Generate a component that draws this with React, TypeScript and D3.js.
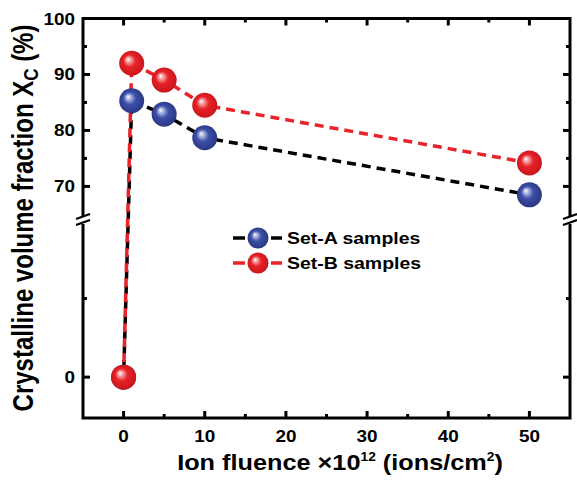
import React from "react";
import * as d3 from "d3";

const fluence = [0, 1, 5, 10, 50];
const setA = [0, 85.3, 82.9, 78.7, 68.5];
const setB = [0, 92.0, 89.0, 84.5, 74.2];
const seriesNames = ["Set-A samples", "Set-B samples"];
const xTicks = [0, 10, 20, 30, 40, 50];
const xMinor = [-5, 5, 15, 25, 35, 45, 55];
const yUpperTicks = [70, 80, 90, 100];
const yUpperMinor = [75, 85, 95];
const yLowerTicks = [0];
const yLowerMinor = [5];

const W = 577, H = 484;
const L = 83, R = 570, T = 18.5, B = 418, BRK = 220;
const SX = 1.18;

const x = d3.scaleLinear().domain([-5, 55]).range([L, R]);
const yU = d3.scaleLinear().domain([64, 100]).range([BRK, T]);
const yLo = d3.scaleLinear().domain([-2.6, 10]).range([B, BRK]);
const yPos = (v: number) => (v >= 30 ? yU(v) : yLo(v));

const font = "'Liberation Sans', Arial, sans-serif";

export default function App() {
  const line = d3
    .line<[number, number]>()
    .x((d) => x(d[0]))
    .y((d) => yPos(d[1]));
  const dataA = fluence.map((f, i) => [f, setA[i]] as [number, number]);
  const dataB = fluence.map((f, i) => [f, setB[i]] as [number, number]);
  const sw = 3;
  const majTick = 7, minTick = 4;
  const yMaj = [...yUpperTicks.map(yU), ...yLowerTicks.map(yLo)];
  const yMin = [...yUpperMinor.map(yU), ...yLowerMinor.map(yLo)];
  const breakMark = (cx: number) => (
    <g>
      <rect x={cx - 6} y={BRK - 4} width={12} height={8} fill="white" />
      <line x1={cx - 7} y1={BRK - 1} x2={cx + 7} y2={BRK - 6} stroke="black" strokeWidth={2.2} />
      <line x1={cx - 7} y1={BRK + 5} x2={cx + 7} y2={BRK} stroke="black" strokeWidth={2.2} />
    </g>
  );
  const ball = (cx: number, cy: number, r: number, id: string, key?: any) => (
    <circle key={key} cx={cx} cy={cy} r={r} fill={`url(#${id})`} />
  );
  return (
    <svg
      width={W}
      height={H}
      style={{ position: "absolute", left: 0, top: 0, background: "white" }}
      fontFamily={font}
    >
      <defs>
        <radialGradient id="gBlue" cx="50%" cy="50%" r="55%" fx="35%" fy="33%">
          <stop offset="0%" stopColor="#ffffff" />
          <stop offset="18%" stopColor="#a9b3e0" />
          <stop offset="45%" stopColor="#3d50a8" />
          <stop offset="100%" stopColor="#26347e" />
        </radialGradient>
        <radialGradient id="gRed" cx="50%" cy="50%" r="55%" fx="35%" fy="33%">
          <stop offset="0%" stopColor="#ffffff" />
          <stop offset="18%" stopColor="#f4a0a2" />
          <stop offset="45%" stopColor="#e82228" />
          <stop offset="100%" stopColor="#c4141b" />
        </radialGradient>
      </defs>

      {/* frame */}
      <rect x={L} y={T} width={R - L} height={B - T} fill="none" stroke="black" strokeWidth={sw} />

      {/* x ticks bottom & top */}
      {xTicks.map((t) => (
        <g key={"xt" + t}>
          <line x1={x(t)} x2={x(t)} y1={B} y2={B - majTick} stroke="black" strokeWidth={sw} />
          <line x1={x(t)} x2={x(t)} y1={T} y2={T + majTick} stroke="black" strokeWidth={sw} />
          <text
            transform={`translate(${x(t)},${B + 24}) scale(${SX},1)`}
            textAnchor="middle"
            fontSize={16}
            fontWeight="bold"
          >
            {t}
          </text>
        </g>
      ))}
      {xMinor
        .filter((t) => x(t) > L + 2 && x(t) < R - 2)
        .map((t) => (
          <g key={"xm" + t}>
            <line x1={x(t)} x2={x(t)} y1={B} y2={B - minTick} stroke="black" strokeWidth={sw} />
            <line x1={x(t)} x2={x(t)} y1={T} y2={T + minTick} stroke="black" strokeWidth={sw} />
          </g>
        ))}

      {/* y ticks */}
      {yMaj.map((py, i) => (
        <g key={"ym" + i}>
          <line x1={L} x2={L + majTick} y1={py} y2={py} stroke="black" strokeWidth={sw} />
          <line x1={R} x2={R - majTick} y1={py} y2={py} stroke="black" strokeWidth={sw} />
        </g>
      ))}
      {yMin.map((py, i) => (
        <g key={"yn" + i}>
          <line x1={L} x2={L + minTick} y1={py} y2={py} stroke="black" strokeWidth={sw} />
          <line x1={R} x2={R - minTick} y1={py} y2={py} stroke="black" strokeWidth={sw} />
        </g>
      ))}
      {[...yUpperTicks.map((t) => [t, yU(t)]), ...yLowerTicks.map((t) => [t, yLo(t)])].map(([t, py]) => (
        <text
          key={"yl" + t}
          transform={`translate(${L - 8},${py + 6}) scale(${SX},1)`}
          textAnchor="end"
          fontSize={16}
          fontWeight="bold"
        >
          {t}
        </text>
      ))}

      {breakMark(L)}
      {breakMark(R)}

      {/* lines */}
      <path d={line(dataA) || ""} fill="none" stroke="black" strokeWidth={3.5} strokeDasharray="9,6" strokeDashoffset={7} />
      <path d={line(dataB) || ""} fill="none" stroke="#e8232a" strokeWidth={3.5} strokeDasharray="9,6" />

      {/* points */}
      {dataA.map((d, i) => ball(x(d[0]), yPos(d[1]), 12.5, "gBlue", "a" + i))}
      {dataB.map((d, i) => ball(x(d[0]), yPos(d[1]), 12.5, "gRed", "b" + i))}

      {/* legend */}
      {seriesNames.map((s, i) => {
        const ly = 238 + i * 25;
        const col = i === 0 ? "black" : "#e8232a";
        return (
          <g key={s}>
            <line x1={233} x2={245} y1={ly} y2={ly} stroke={col} strokeWidth={3.5} />
            <line x1={271} x2={282} y1={ly} y2={ly} stroke={col} strokeWidth={3.5} />
            {ball(258, ly, 10.5, i === 0 ? "gBlue" : "gRed")}
            <text
              transform={`translate(287,${ly + 6}) scale(${SX},1)`}
              fontSize={16.5}
              fontWeight="bold"
            >
              {s}
            </text>
          </g>
        );
      })}

      {/* axis labels */}
      <text
        transform={`translate(340,470) scale(1.15,1)`}
        textAnchor="middle"
        fontSize={22}
        fontWeight="bold"
      >
        Ion fluence ×10
        <tspan fontSize={12} dy={-9}>12</tspan>
        <tspan dy={9}> (ions/cm</tspan>
        <tspan fontSize={12} dy={-9}>2</tspan>
        <tspan dy={9}>)</tspan>
      </text>
      <text
        transform={`translate(33,218) scale(1.2,1) rotate(-90)`}
        textAnchor="middle"
        fontSize={24}
        fontWeight="bold"
      >
        Crystalline volume fraction X
        <tspan fontSize={17} dy={4}>C</tspan>
        <tspan dy={-4}> (%)</tspan>
      </text>
    </svg>
  );
}
